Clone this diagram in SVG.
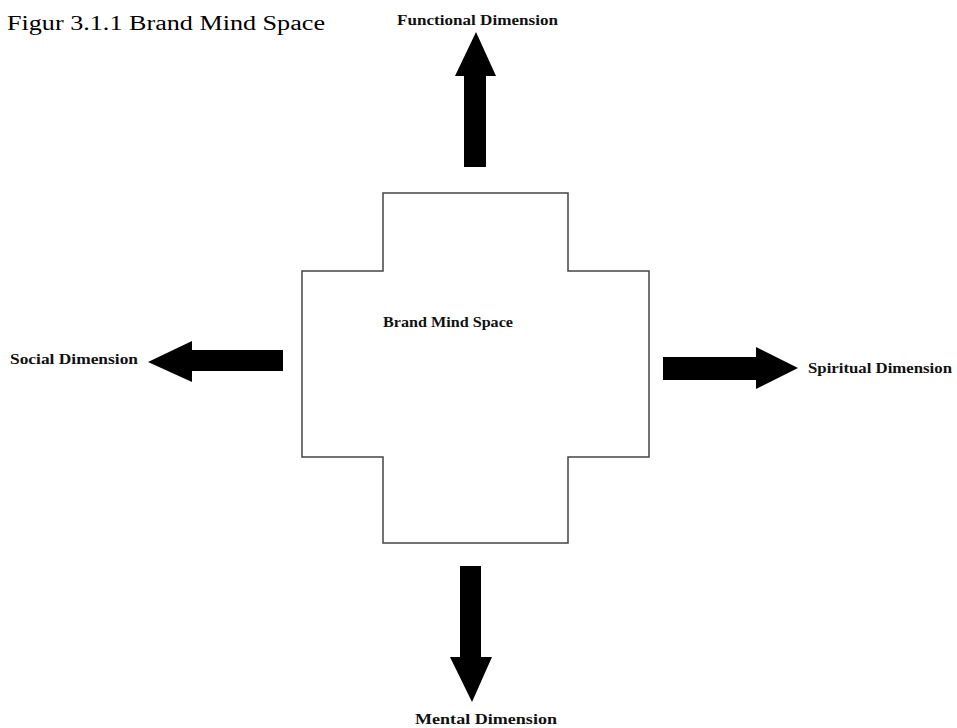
<svg xmlns="http://www.w3.org/2000/svg" width="957" height="728" viewBox="0 0 957 728">
<style>
.lbl{font-family:"Liberation Serif","DejaVu Serif",serif;font-weight:bold;fill:#111;font-size:15px;}
.arrow{fill:#000;}
.title{font-family:"Liberation Serif","Times New Roman",serif;font-size:20px;fill:#000;}
</style>
<rect width="957" height="728" fill="#fff"/>
<text class="title" x="7" y="30" textLength="318" lengthAdjust="spacingAndGlyphs">Figur 3.1.1 Brand Mind Space</text>
<g id="center">
<path d="M383,193 H568 V271 H649 V457 H568 V543 H383 V457 H302 V271 H383 Z" fill="#fff" stroke="#444" stroke-width="1.5"/>
<text class="lbl" x="383" y="327" font-size="19" textLength="130" lengthAdjust="spacingAndGlyphs">Brand Mind Space</text>
</g>
<g id="connectors">
<polygon class="arrow" points="464,167 464,76 455,76 476,32 496,76 486,76 486,167"/>
<polygon class="arrow" points="283,350 192,350 192,341 148,362 192,382 192,371 283,371"/>
<polygon class="arrow" points="663,357 756,357 756,347 798,368 756,389 756,380 663,380"/>
<polygon class="arrow" points="460,566 460,657 450,657 472,702 492,657 481,657 481,566"/>
</g>
<g id="functional">
<text class="lbl" x="397" y="25" textLength="161" lengthAdjust="spacingAndGlyphs">Functional Dimension</text>
</g>
<g id="social">
<text class="lbl" x="10" y="364" textLength="128" lengthAdjust="spacingAndGlyphs">Social Dimension</text>
</g>
<g id="spiritual">
<text class="lbl" x="808" y="373" textLength="144" lengthAdjust="spacingAndGlyphs">Spiritual Dimension</text>
</g>
<g id="mental">
<text class="lbl" x="415" y="724" textLength="142" lengthAdjust="spacingAndGlyphs">Mental Dimension</text>
</g>
</svg>
